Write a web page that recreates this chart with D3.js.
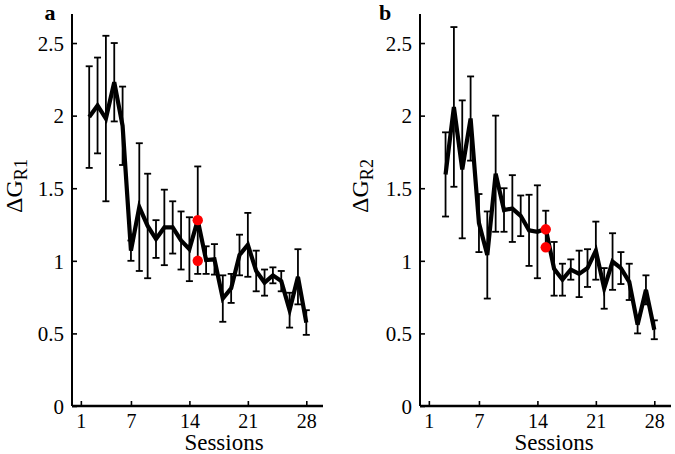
<!DOCTYPE html>
<html>
<head>
<meta charset="utf-8">
<script src="https://cdn.jsdelivr.net/npm/d3@7"></script>
<style>
  body { margin: 0; background: #fff; }
</style>
</head>
<body>
<div id="chart"></div>
<script>
// panel a
const sessionsA = [2, 3, 4, 5, 6, 7, 8, 9, 10, 11, 12, 13, 14, 15, 16, 17, 18, 19, 20, 21, 22, 23, 24, 25, 26, 27, 28];
const meanA = [1.99, 2.07, 1.98, 2.23, 1.93, 1.07, 1.37, 1.24, 1.15, 1.23, 1.23, 1.14, 1.08, 1.28, 1.005, 1.01, 0.74, 0.81, 1.04, 1.11, 0.93, 0.85, 0.90, 0.86, 0.66, 0.89, 0.575];
const errA = [0.35, 0.33, 0.57, 0.27, 0.27, 0.07, 0.44, 0.36, 0.13, 0.26, 0.18, 0.20, 0.22, 0.37, 0.095, 0.105, 0.16, 0.10, 0.14, 0.22, 0.14, 0.09, 0.055, 0.07, 0.12, 0.19, 0.085];
const markerA = [1.28, 1.0];

// panel b
const sessionsB = [3, 4, 5, 6, 7, 8, 9, 10, 11, 12, 13, 14, 15, 16, 17, 18, 19, 20, 21, 22, 23, 24, 25, 26, 27, 28];
const meanB = [1.595, 2.06, 1.63, 1.98, 1.26, 1.04, 1.60, 1.35, 1.36, 1.31, 1.21, 1.20, 1.22, 0.945, 0.87, 0.94, 0.91, 0.95, 1.07, 0.81, 0.995, 0.95, 0.855, 0.56, 0.80, 0.525];
const errB = [0.29, 0.55, 0.475, 0.29, 0.20, 0.30, 0.40, 0.15, 0.23, 0.14, 0.245, 0.32, 0.125, 0.185, 0.11, 0.07, 0.16, 0.13, 0.20, 0.14, 0.195, 0.11, 0.125, 0.06, 0.10, 0.065];
const markerB = [1.217, 1.093];

const markerSession = 15;
const xTicks = [1, 7, 14, 21, 28];
const yTicks = [0, 0.5, 1, 1.5, 2, 2.5];

const FONT = "'Liberation Serif', 'DejaVu Serif', serif";

const svg = d3.select('#chart')
    .append('svg')
    .attr('width', 675)
    .attr('height', 454)
    .style('font-family', FONT);

function drawPanel(opts) {
    const { left, letter, letterX, labelX, titleX, sub, sessions, mean, err, marker } = opts;
    const top = 14, bottom = 406, right = left + 251;

    const x = d3.scaleLinear().domain([0, 30]).range([left + 0.5, right]);
    const y = d3.scaleLinear().domain([0, 2.7]).range([bottom, top]);

    const g = svg.append('g');
    const data = sessions.map((s, i) => ({ s: s, m: mean[i], e: err[i] }));

    // error bars
    const cap = 3.5;
    const eb = g.append('g').attr('stroke', '#000').attr('stroke-width', 1.8);
    eb.selectAll('line.v')
        .data(data)
        .enter()
        .append('line')
        .attr('x1', d => x(d.s))
        .attr('x2', d => x(d.s))
        .attr('y1', d => y(d.m - d.e))
        .attr('y2', d => y(d.m + d.e));
    eb.selectAll('line.t')
        .data(data)
        .enter()
        .append('line')
        .attr('x1', d => x(d.s) - cap)
        .attr('x2', d => x(d.s) + cap)
        .attr('y1', d => y(d.m + d.e))
        .attr('y2', d => y(d.m + d.e));
    eb.selectAll('line.b')
        .data(data)
        .enter()
        .append('line')
        .attr('x1', d => x(d.s) - cap)
        .attr('x2', d => x(d.s) + cap)
        .attr('y1', d => y(d.m - d.e))
        .attr('y2', d => y(d.m - d.e));

    // mean line
    g.append('path')
        .datum(data)
        .attr('fill', 'none')
        .attr('stroke', '#000')
        .attr('stroke-width', 4.2)
        .attr('stroke-linejoin', 'miter')
        .attr('d', d3.line().x(d => x(d.s)).y(d => y(d.m)));

    // red markers
    g.selectAll('circle')
        .data(marker)
        .enter()
        .append('circle')
        .attr('cx', x(markerSession))
        .attr('cy', d => y(d))
        .attr('r', 5.2)
        .attr('fill', '#f00');

    // Add Y axis
    const ya = g.append('g')
        .attr('transform', `translate(${left},0)`)
        .call(d3.axisRight(y).tickValues(yTicks).tickFormat(d3.format('')).tickSize(5));
    ya.select('.domain').attr('d', `M0,${top}V${bottom}`).attr('stroke-width', 2);
    ya.selectAll('.tick line').attr('stroke-width', 1.6);
    ya.selectAll('.tick text')
        .attr('x', -8)
        .attr('text-anchor', 'end')
        .attr('dy', '0.35em')
        .style('font-family', FONT)
        .style('font-size', '21px');

    // Add X axis
    const xa = g.append('g')
        .attr('transform', `translate(0,${bottom})`)
        .call(d3.axisTop(x).tickValues(xTicks).tickSize(5));
    xa.select('.domain').attr('d', `M${left},0H${right}`).attr('stroke-width', 2.5);
    xa.selectAll('.tick line').attr('stroke-width', 1.6);
    xa.selectAll('.tick text')
        .attr('y', 22)
        .attr('dy', 0)
        .style('font-family', FONT)
        .style('font-size', '20px');

    // labels
    g.append('text')
        .attr('x', titleX)
        .attr('y', 450)
        .attr('text-anchor', 'middle')
        .style('font-family', FONT)
        .style('font-size', '23px')
        .text('Sessions');

    g.append('text')
        .attr('x', letterX)
        .attr('y', 20)
        .attr('text-anchor', 'middle')
        .style('font-family', FONT)
        .style('font-size', '22px')
        .style('font-weight', 'bold')
        .text(letter);

    const yl = g.append('text')
        .attr('transform', `translate(${labelX},186) rotate(-90)`)
        .attr('text-anchor', 'middle')
        .style('font-family', FONT)
        .style('font-size', '24px');
    yl.append('tspan').text('\u0394G');
    yl.append('tspan')
        .attr('dy', 5)
        .style('font-size', '18px')
        .text(sub);
}

drawPanel({ left: 72, letter: 'a', letterX: 50, labelX: 22, titleX: 224, sub: 'R1', sessions: sessionsA, mean: meanA, err: errA, marker: markerA });
drawPanel({ left: 420, letter: 'b', letterX: 385, labelX: 368, titleX: 554, sub: 'R2', sessions: sessionsB, mean: meanB, err: errB, marker: markerB });
</script>
</body>
</html>
